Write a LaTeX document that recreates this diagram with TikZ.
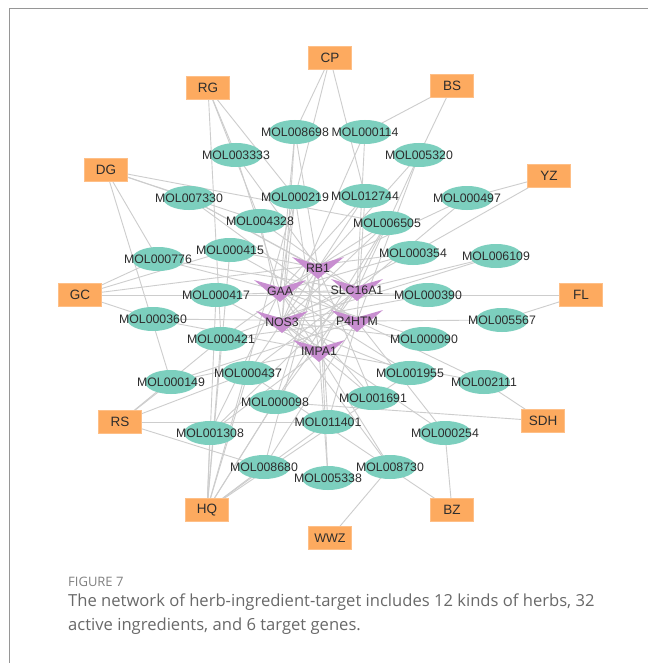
\documentclass[tikz,border=0pt]{standalone}
\usepackage{fontspec}
\setmainfont{Liberation Sans}
\newfontfamily\capfont{Open Sans}
\usetikzlibrary{shapes.geometric,calc}
\pgfdeclarelayer{bgwhite}
\pgfdeclarelayer{edges}
\pgfdeclarelayer{shapes}
\pgfsetlayers{bgwhite,edges,shapes,main}
\definecolor{herbc}{RGB}{253,170,95}
\definecolor{ingc}{RGB}{124,207,190}
\definecolor{tgtc}{RGB}{200,142,208}
\definecolor{edgec}{RGB}{205,205,205}
\definecolor{txt}{RGB}{45,45,45}
\definecolor{capc}{RGB}{105,105,105}
\definecolor{framec}{RGB}{150,150,150}
\tikzset{
  herb/.style={rectangle, fill=herbc, draw=herbc!75!white, line width=0.6pt, minimum width=43pt, minimum height=23pt, inner sep=0pt, font=\fontsize{13.5}{15}\selectfont, text=txt},
  ing/.style={ellipse, fill=ingc, minimum width=52pt, minimum height=24pt, inner sep=0pt},
  lbl/.style={font=\fontsize{12.3}{14}\selectfont, text=txt, inner sep=0pt},
  tgt/.style={inner sep=0pt, font=\fontsize{12.3}{14}\selectfont, text=txt},
  link/.style={draw=edgec, line width=0.9pt},
  frameline/.style={draw=framec, line width=1pt}
}
\newcommand\ingnode[2]{\node[ing,label={[lbl]center:#1}] (#1) at (#2) {};}
\newcommand\tgtnode[2]{\node[tgt] (#1) at (#2) {#1};
  \begin{pgfonlayer}{shapes}
  \fill[tgtc] ($(#1)+(-26,-11)$) -- ($(#1)+(0,-3.5)$) -- ($(#1)+(26,-11)$) -- ($(#1)+(0,11)$) -- cycle;
  \end{pgfonlayer}}
\begin{document}
\begin{tikzpicture}[x=1pt,y=-1pt]
\useasboundingbox (0,0) rectangle (648,663);
\begin{pgfonlayer}{bgwhite}
\fill[white] (0,0) rectangle (648,663);
\end{pgfonlayer}
\draw[frameline] (9,663) -- (9,9) -- (648,9);
% herbs
\node[herb] (CP) at (330,58) {CP};
\node[herb] (RG) at (208,88) {RG};
\node[herb] (BS) at (452,86) {BS};
\node[herb] (DG) at (106,170) {DG};
\node[herb] (YZ) at (549,176) {YZ};
\node[herb] (GC) at (80,295) {GC};
\node[herb] (FL) at (581,295) {FL};
\node[herb] (RS) at (120,422) {RS};
\node[herb] (SDH) at (543,421) {SDH};
\node[herb] (HQ) at (207,510) {HQ};
\node[herb] (BZ) at (452,510) {BZ};
\node[herb,font=\fontsize{12.5}{14}\selectfont] (WWZ) at (330,538) {WWZ};
% ingredients
\ingnode{MOL008698}{295,132}
\ingnode{MOL000114}{365,132}
\ingnode{MOL003333}{236,155}
\ingnode{MOL005320}{419,155}
\ingnode{MOL007330}{189,198}
\ingnode{MOL000219}{295,197}
\ingnode{MOL012744}{365,196}
\ingnode{MOL000497}{467,198}
\ingnode{MOL004328}{260,221}
\ingnode{MOL006505}{387,223}
\ingnode{MOL000776}{158,259}
\ingnode{MOL000415}{230,250}
\ingnode{MOL000354}{413,253}
\ingnode{MOL006109}{496,256}
\ingnode{MOL000417}{216,295}
\ingnode{MOL000390}{428,295}
\ingnode{MOL000360}{153,319}
\ingnode{MOL005567}{502,320}
\ingnode{MOL000421}{221,339}
\ingnode{MOL000090}{424,339}
\ingnode{MOL000437}{248,373}
\ingnode{MOL000149}{171,382}
\ingnode{MOL001955}{410,373}
\ingnode{MOL002111}{484,382}
\ingnode{MOL000098}{275,402}
\ingnode{MOL001691}{373,398}
\ingnode{MOL011401}{328,422}
\ingnode{MOL001308}{210,433}
\ingnode{MOL000254}{445,433}
\ingnode{MOL008680}{264,467}
\ingnode{MOL008730}{390,467}
\ingnode{MOL005338}{328,478}
% targets
\tgtnode{RB1}{318,268}
\tgtnode{GAA}{280,291}
\tgtnode{SLC16A1}{357,290}
\tgtnode{NOS3}{282,322}
\tgtnode{P4HTM}{357,321}
\tgtnode{IMPA1}{319,351}
% edges
\begin{pgfonlayer}{edges}
\draw[link] (WWZ.center) -- (MOL008730.center);
\foreach \a/\b in {
 CP/MOL008698, CP/MOL000219, CP/MOL012744,
 RG/MOL003333, RG/MOL000219, RG/MOL004328, RG/MOL000421,
 BS/MOL000114, BS/MOL005320,
 DG/MOL007330, DG/MOL004328, DG/MOL006505, DG/MOL000776, DG/MOL000149,
 YZ/MOL000497, YZ/MOL000354,
 GC/MOL000776, GC/MOL000415, GC/MOL000354, GC/MOL000390, GC/MOL000360, GC/MOL000417,
 FL/MOL000390, FL/MOL005567,
 RS/MOL000149, RS/MOL000437, RS/MOL000421, RS/MOL011401, RS/MOL008680,
 HQ/MOL000417, HQ/MOL000421, HQ/MOL001308, HQ/MOL000437, HQ/MOL000098, HQ/MOL008680,
 HQ/MOL000219, HQ/MOL000415, HQ/MOL011401, HQ/MOL001955, HQ/MOL006505,
 SDH/MOL002111, SDH/MOL000098,
 BZ/MOL000437, BZ/MOL000254,
 MOL008698/RB1, MOL008698/GAA, MOL008698/NOS3,
 MOL000114/NOS3, MOL000114/SLC16A1,
 MOL003333/RB1, MOL003333/GAA,
 MOL005320/SLC16A1, MOL005320/P4HTM, MOL005320/RB1,
 MOL007330/RB1, MOL007330/SLC16A1, MOL007330/P4HTM,
 MOL000219/GAA, MOL000219/NOS3, MOL000219/IMPA1,
 MOL012744/RB1, MOL012744/P4HTM, MOL012744/GAA,
 MOL000497/RB1, MOL000497/SLC16A1,
 MOL004328/SLC16A1, MOL004328/NOS3,
 MOL006505/GAA, MOL006505/NOS3, MOL006505/IMPA1,
 MOL000776/GAA, MOL000776/SLC16A1,
 MOL000415/RB1, MOL000415/P4HTM,
 MOL000354/GAA, MOL000354/NOS3,
 MOL006109/SLC16A1, MOL006109/NOS3,
 MOL000417/SLC16A1, MOL000417/IMPA1,
 MOL000390/GAA, MOL000390/NOS3,
 MOL000360/IMPA1, MOL000360/P4HTM,
 MOL005567/P4HTM,
 MOL000421/RB1, MOL000421/SLC16A1, MOL000421/P4HTM,
 MOL000090/GAA, MOL000090/NOS3,
 MOL000437/RB1, MOL000437/SLC16A1,
 MOL000149/P4HTM, MOL000149/IMPA1,
 MOL001955/NOS3, MOL001955/GAA,
 MOL002111/P4HTM, MOL002111/IMPA1,
 MOL000098/RB1, MOL000098/SLC16A1,
 MOL001691/NOS3, MOL001691/GAA, MOL001691/RB1,
 MOL011401/RB1, MOL011401/P4HTM,
 MOL001308/GAA, MOL001308/SLC16A1, MOL001308/IMPA1,
 MOL000254/NOS3, MOL000254/P4HTM,
 MOL008680/RB1, MOL008680/P4HTM,
 MOL008730/GAA, MOL008730/NOS3,
 MOL005338/IMPA1, MOL005338/RB1}
 \draw[link] (\a.center) -- (\b.center);
\end{pgfonlayer}
% caption
\node[anchor=west, inner sep=0pt, text=capc!85!white, font=\capfont\fontsize{13}{15}\selectfont] (fig) at (68,582) {FIGURE 7};
\node[anchor=north west, inner sep=0pt, text=capc, align=left, font=\capfont\fontsize{16.6}{23.5}\selectfont] (cap) at (68,594) {The network of herb-ingredient-target includes 12 kinds of herbs, 32\\active ingredients, and 6 target genes.};
\end{tikzpicture}
\end{document}
